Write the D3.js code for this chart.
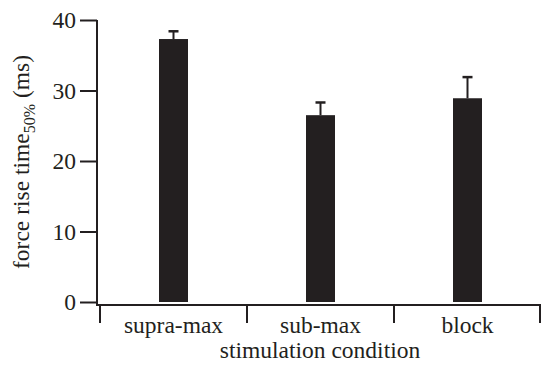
<!DOCTYPE html>
<html>
<head>
<meta charset="utf-8">
<script src="https://cdn.jsdelivr.net/npm/d3@7"></script>
<style>
  body { margin: 0; background: #fff; }
  text { font-family: "Liberation Serif", "Times New Roman", serif; fill: #231f20; }
</style>
</head>
<body>
<svg id="chart" width="542" height="367"></svg>
<script>
// data
const conditions = ['supra-max', 'sub-max', 'block']
const meanValues = [37.3, 26.5, 28.9]
const errUpper = [38.4, 28.3, 31.9]
const yTicks = [0, 10, 20, 30, 40]

const ink = '#231f20'
const fs = '23.5px'
const svg = d3.select('#chart')

const x = d3.scaleBand().domain(conditions).range([100, 541]).paddingInner(0).paddingOuter(0)
const y = d3.scaleLinear().domain([0, 40]).range([302, 20])
const barW = 29

// y axis
const yAxis = d3.axisLeft(y).tickValues(yTicks).tickSize(17).tickPadding(4)
const gy = svg.append('g').attr('transform', 'translate(97,0)').call(yAxis)
gy.select('.domain').remove()
gy.selectAll('line').attr('stroke', ink).attr('stroke-width', 2)
gy.selectAll('text').style('font-size', fs).attr('fill', ink)
svg.append('line')
    .attr('x1', 97).attr('x2', 97).attr('y1', y(40)).attr('y2', 306)
    .attr('stroke', ink).attr('stroke-width', 2)

// x axis
svg.append('line')
    .attr('x1', 96).attr('x2', 541).attr('y1', 305).attr('y2', 305)
    .attr('stroke', ink).attr('stroke-width', 2)
const bounds = conditions.map(c => x(c)).concat([x.range()[1] - 1])
svg.selectAll('.xtick')
    .data(bounds)
    .join('line')
    .attr('class', 'xtick')
    .attr('x1', d => d).attr('x2', d => d)
    .attr('y1', 305).attr('y2', 323)
    .attr('stroke', ink).attr('stroke-width', 2)
svg.selectAll('.xlab')
    .data(conditions)
    .join('text')
    .attr('class', 'xlab')
    .attr('x', d => x(d) + x.bandwidth() / 2)
    .attr('y', 333)
    .attr('text-anchor', 'middle')
    .style('font-size', fs)
    .text(d => d)

// bars
svg.selectAll('.bar')
    .data(conditions)
    .join('rect')
    .attr('class', 'bar')
    .attr('x', d => x(d) + x.bandwidth() / 2 - barW / 2)
    .attr('width', barW)
    .attr('y', (d, i) => y(meanValues[i]))
    .attr('height', (d, i) => y(0) - y(meanValues[i]))
    .attr('fill', ink)

// error bars (upper only)
svg.selectAll('.err')
    .data(conditions)
    .join('line')
    .attr('class', 'err')
    .attr('x1', d => x(d) + x.bandwidth() / 2)
    .attr('x2', d => x(d) + x.bandwidth() / 2)
    .attr('y1', (d, i) => y(meanValues[i]))
    .attr('y2', (d, i) => y(errUpper[i]))
    .attr('stroke', ink).attr('stroke-width', 2)
svg.selectAll('.cap')
    .data(conditions)
    .join('line')
    .attr('class', 'cap')
    .attr('x1', d => x(d) + x.bandwidth() / 2 - 5)
    .attr('x2', d => x(d) + x.bandwidth() / 2 + 5)
    .attr('y1', (d, i) => y(errUpper[i]))
    .attr('y2', (d, i) => y(errUpper[i]))
    .attr('stroke', ink).attr('stroke-width', 2.5)

// axis titles
svg.append('text')
    .attr('x', 320).attr('y', 358)
    .attr('text-anchor', 'middle')
    .style('font-size', fs)
    .text('stimulation condition')

const yt = svg.append('text')
    .attr('transform', 'translate(29,162) rotate(-90)')
    .attr('text-anchor', 'middle')
    .style('font-size', fs)
yt.append('tspan').text('force rise time')
yt.append('tspan').attr('dy', 6).style('font-size', '16px').text('50%')
yt.append('tspan').attr('dy', -6).text(' (ms)')
</script>
</body>
</html>
